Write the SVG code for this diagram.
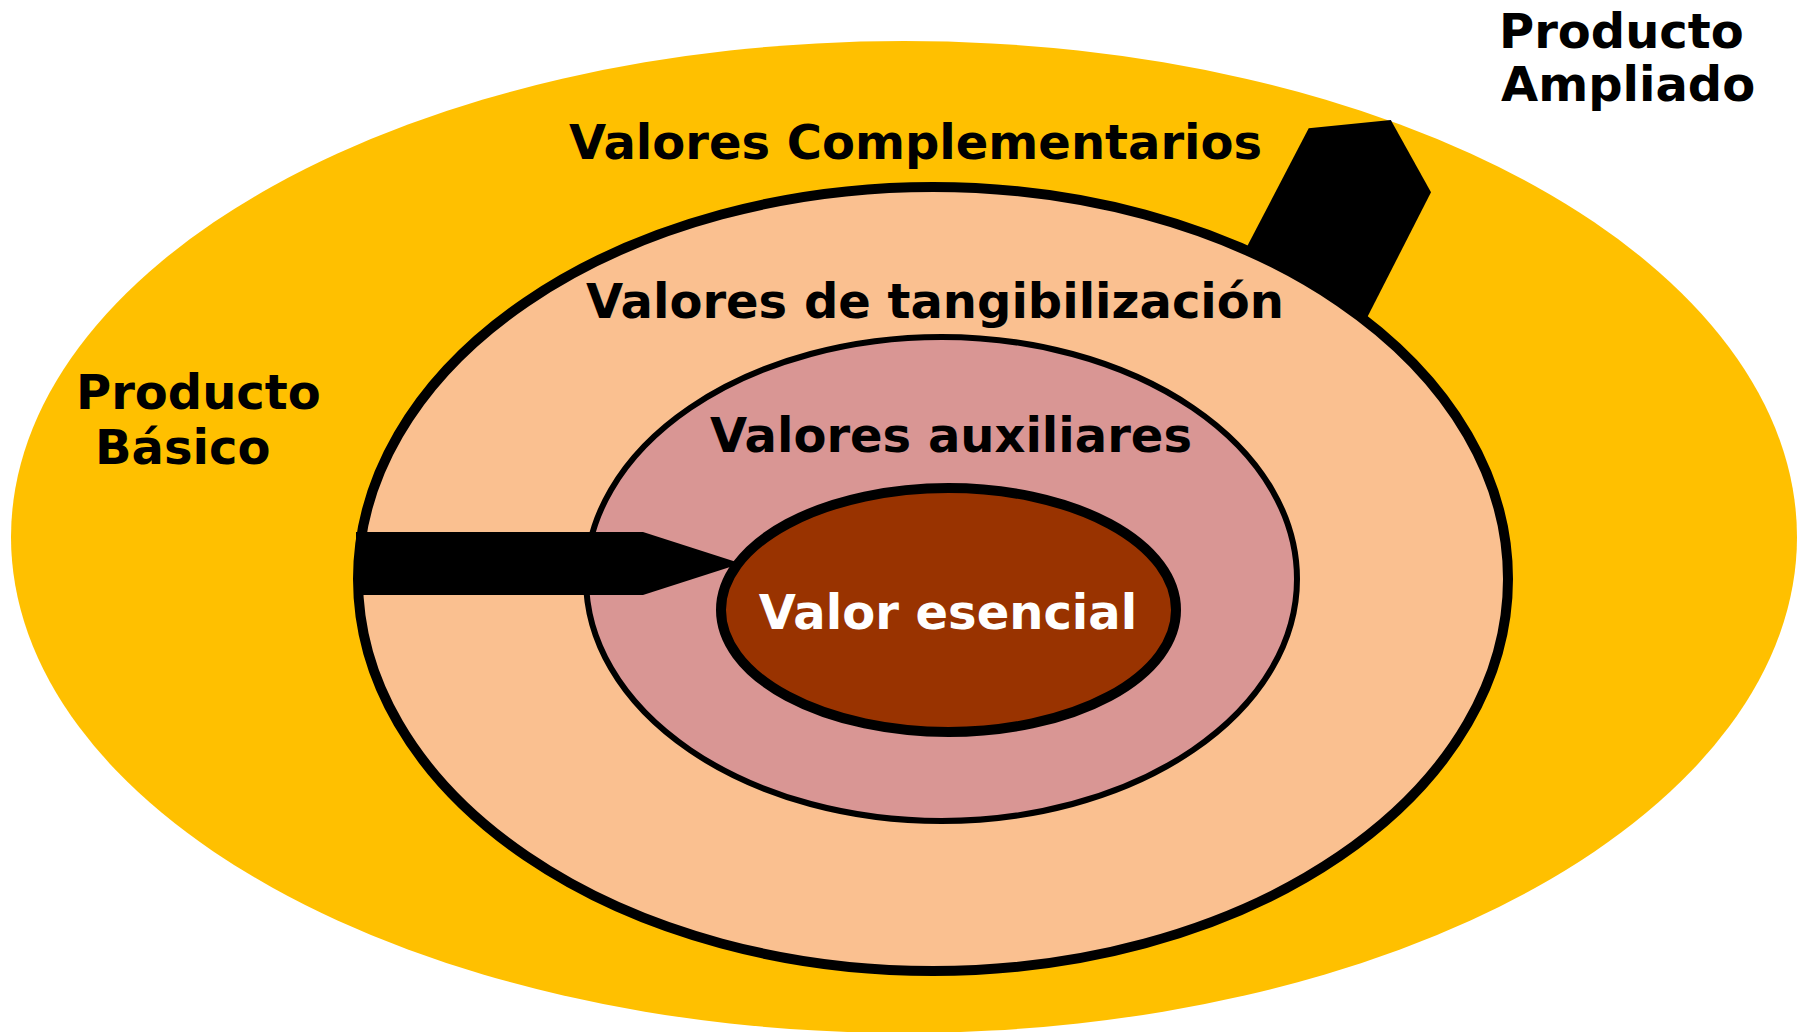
<svg xmlns="http://www.w3.org/2000/svg" width="1800" height="1032" viewBox="0 0 1800 1032">
  <style>
    .lbl { font-family: "DejaVu Sans", Verdana, "Liberation Sans", sans-serif; font-weight: bold; font-size: 48px; fill: #000; }
    .mid { text-anchor: middle; }
    .white { fill: #fff; }
    .ring { stroke: #000; }
  </style>
  <rect width="1800" height="1032" fill="#fff"/>
  <g id="producto-ampliado-ring">
    <ellipse cx="904" cy="537" rx="893" ry="496" fill="#FFC000"/>
  </g>
  <g id="connectors">
    <polygon id="arrow-complementarios" points="1228,283 1308.7,128.3 1390.8,120 1431,192.3 1348,355" fill="#000"/>
  </g>
  <g id="tangibilizacion-ring">
    <ellipse class="ring" cx="933" cy="579" rx="575" ry="392" fill="#FAC090" stroke-width="10"/>
  </g>
  <g id="auxiliares-ring">
    <ellipse class="ring" cx="941.5" cy="579" rx="355.5" ry="242" fill="#D99694" stroke-width="6"/>
  </g>
  <g id="connectors-basico">
    <polygon id="arrow-basico" points="356,532 643,532 741,563.5 643,595 356,595" fill="#000"/>
  </g>
  <g id="esencial-core">
    <ellipse class="ring" cx="948.5" cy="610" rx="227.5" ry="122" fill="#993300" stroke-width="10"/>
    <text class="lbl mid white" x="948" y="629">Valor esencial</text>
  </g>
  <g id="labels">
    <text class="lbl mid" x="915.5" y="159">Valores Complementarios</text>
    <text class="lbl mid" x="935" y="318">Valores de tangibilización</text>
    <text class="lbl mid" x="951" y="452">Valores auxiliares</text>
    <text class="lbl" x="76" y="409">Producto</text>
    <text class="lbl" x="95" y="464">Básico</text>
    <text class="lbl" x="1499" y="48">Producto</text>
    <text class="lbl" x="1501" y="101">Ampliado</text>
  </g>
</svg>
